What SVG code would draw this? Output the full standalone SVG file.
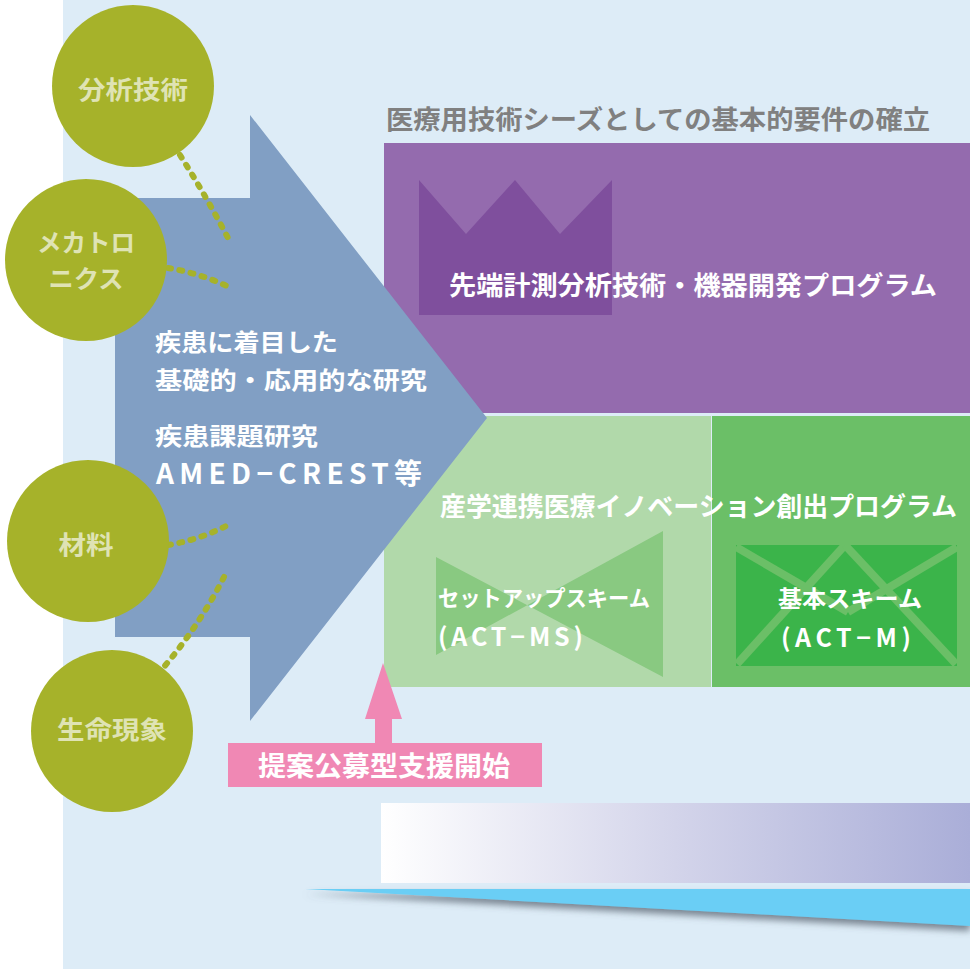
<svg xmlns="http://www.w3.org/2000/svg" width="970" height="969" viewBox="0 0 970 969">
<defs>
<style>
.t{font-family:"Noto Sans CJK JP","Noto Sans",sans-serif;font-weight:700}
.w{fill:#ffffff}
.ct{fill:#dfe3b4;font-size:25px;text-anchor:middle}
.circ{fill:#a6b22a}
.dot{fill:none;stroke:#a6b22a;stroke-width:6;stroke-linecap:round;stroke-dasharray:3 8.5}
</style>
<linearGradient id="gbar" x1="0" y1="0" x2="1" y2="0">
<stop offset="0" stop-color="#ffffff"/>
<stop offset="0.5" stop-color="#d3d4ea"/>
<stop offset="1" stop-color="#aaaed8"/>
</linearGradient>
<filter id="sh" x="-5%" y="-50%" width="110%" height="300%">
<feDropShadow dx="0" dy="5" stdDeviation="3.5" flood-color="#5a6470" flood-opacity="0.75"/>
</filter>
<clipPath id="envclip"><rect x="736" y="545" width="221" height="121"/></clipPath>
</defs>
<rect x="0" y="0" width="970" height="969" fill="#ffffff"/>
<rect x="63" y="0" width="907" height="969" fill="#ddecf7"/>

<text class="t" x="386" y="129" font-size="26" fill="#808080" textLength="544" lengthAdjust="spacingAndGlyphs">医療用技術シーズとしての基本的要件の確立</text>

<g id="purple-program">
<rect x="384" y="143" width="586" height="270" fill="#946bae"/>
<polygon points="419,180 466,234 515,180 560,234 612,180 612,315 419,315" fill="#7f4f9d"/>
<text class="t w" x="449" y="295" font-size="26" textLength="488" lengthAdjust="spacingAndGlyphs">先端計測分析技術・機器開発プログラム</text>
</g>

<g id="green-program">
<rect x="384" y="416" width="327" height="271" fill="#b1d9aa"/>
<rect x="712" y="416" width="258" height="271" fill="#6bbf67"/>
<text class="t w" x="440" y="516" font-size="26" textLength="517" lengthAdjust="spacingAndGlyphs">産学連携医療イノベーション創出プログラム</text>
</g>

<g id="act-ms">
<polygon points="436,557 663,677 663,531 436,655" fill="#89c981"/>
<text class="t w" x="438" y="606" font-size="22" textLength="212" lengthAdjust="spacingAndGlyphs">セットアップスキーム</text>
<text class="t w" x="438" y="646" font-size="25" textLength="145" lengthAdjust="spacing">(ACT−MS)</text>
</g>

<g id="act-m">
<rect x="736" y="545" width="221" height="121" fill="#3bb44a"/>
<g clip-path="url(#envclip)" stroke="#6bbf67" stroke-width="8" fill="none">
<line x1="736" y1="547" x2="848" y2="612"/>
<line x1="957" y1="547" x2="848" y2="612"/>
<line x1="845" y1="545" x2="737" y2="664"/>
<line x1="845" y1="545" x2="956" y2="664"/>
</g>
<text class="t w" x="778" y="607" font-size="23" textLength="144" lengthAdjust="spacingAndGlyphs">基本スキーム</text>
<text class="t w" x="781" y="647" font-size="25" textLength="130" lengthAdjust="spacing">(ACT−M)</text>
</g>

<g id="research-arrow">
<polygon points="115,198 250,198 250,115 487,418 250,721 250,637 115,637" fill="#819fc4"/>
<text class="t w" x="155" y="351" font-size="24" textLength="183" lengthAdjust="spacingAndGlyphs">疾患に着目した</text>
<text class="t w" x="155" y="389" font-size="24" textLength="272" lengthAdjust="spacingAndGlyphs">基礎的・応用的な研究</text>
<text class="t w" x="155" y="445" font-size="24" textLength="163" lengthAdjust="spacingAndGlyphs">疾患課題研究</text>
<text class="t w" x="156" y="484" font-size="28" textLength="266" lengthAdjust="spacing">AMED−CREST等</text>
</g>

<g id="connectors">
<path class="dot" d="M180,155 Q206,196 228,238"/>
<path class="dot" d="M168,268 Q200,273 231,288"/>
<path class="dot" d="M168,545 Q199,540 228,525"/>
<path class="dot" d="M224,577 Q199,626 163,668"/>
</g>

<g id="node-bunseki">
<circle class="circ" cx="133" cy="86" r="81"/>
<text class="t ct" x="133" y="99" textLength="110" lengthAdjust="spacingAndGlyphs">分析技術</text>
</g>
<g id="node-mechatronics">
<circle class="circ" cx="86" cy="260" r="81"/>
<text class="t ct" x="86" y="252" font-size="22" textLength="98" lengthAdjust="spacingAndGlyphs">メカトロ</text>
<text class="t ct" x="86" y="288" font-size="22" textLength="75" lengthAdjust="spacingAndGlyphs">ニクス</text>
</g>
<g id="node-zairyo">
<circle class="circ" cx="88" cy="541" r="81"/>
<text class="t ct" x="86" y="554" textLength="55" lengthAdjust="spacingAndGlyphs">材料</text>
</g>
<g id="node-seimei">
<circle class="circ" cx="112" cy="731" r="81"/>
<text class="t ct" x="112" y="739" textLength="110" lengthAdjust="spacingAndGlyphs">生命現象</text>
</g>

<g id="proposal-start">
<polygon points="383,663 402,719 392,719 392,744 375,744 375,719 365,719" fill="#f088b4"/>
<rect x="228" y="743" width="314" height="44" fill="#f088b4"/>
<text class="t w" x="258" y="776" font-size="27" textLength="252" lengthAdjust="spacingAndGlyphs">提案公募型支援開始</text>
</g>

<g id="gradient-bar">
<rect x="381" y="803" width="589" height="80" fill="url(#gbar)"/>
</g>
<g id="time-wedge">
<polygon points="305,889 970,889 970,926" fill="#6acef5" filter="url(#sh)"/>
</g>
</svg>
